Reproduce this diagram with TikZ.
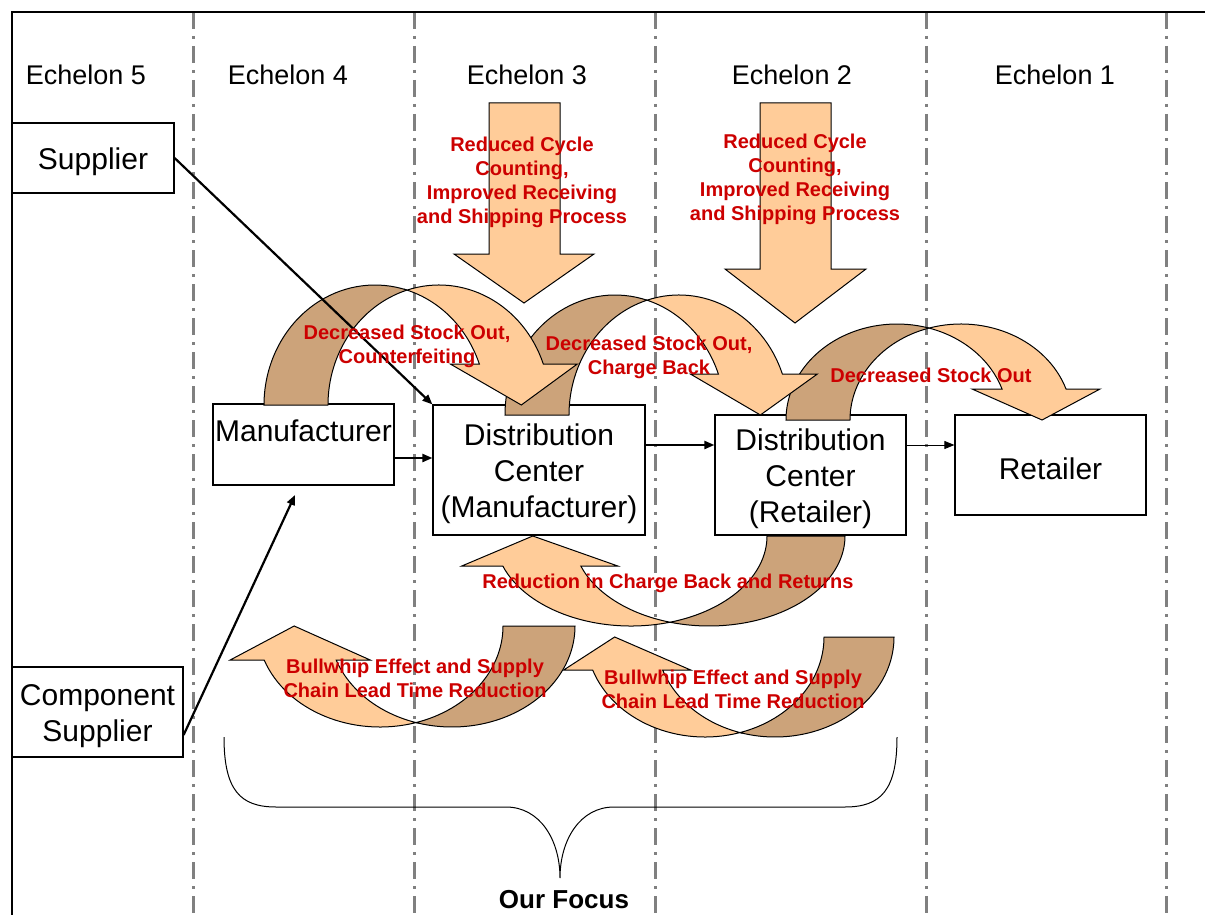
\documentclass[tikz,border=0pt]{standalone}
\usepackage{fontspec}
\setmainfont{Liberation Sans}
\usetikzlibrary{arrows.meta}

\definecolor{frontpeach}{RGB}{255,204,153}
\definecolor{backtan}{RGB}{204,163,122}
\definecolor{effectred}{RGB}{204,0,0}
\definecolor{dividergray}{RGB}{128,128,128}

\newcommand{\boxstrut}{\rule{0pt}{15pt}}

\tikzset{
  box/.style={draw, line width=0.6pt, fill=white, align=center, inner sep=1pt, font=\fontsize{15}{18}\selectfont},
  echelon/.style={font=\fontsize{13.5}{16}\selectfont},
  effect/.style={text=effectred, align=center, font=\fontsize{10}{12}\selectfont\bfseries},
  divider/.style={draw=dividergray, line width=1.5pt, dash pattern=on 8.5pt off 3.5pt on 1.5pt off 3.5pt},
  link/.style={-{Triangle[length=5pt,width=4pt]}, line width=1.1pt},
  frontfill/.style={fill=frontpeach, draw=black, line width=0.5pt},
  backfill/.style={fill=backtan, draw=black, line width=0.5pt},
}

% #1 placement, #2 x radius, #3 y radius, #4 band, #5 head height, #6/#7 wings, #8 tip offset
\newcommand{\flowarc}[8]{%
  \begin{scope}[#1]
    \pgfmathsetmacro{\ta}{acos(#4/(2*#2))}
    \pgfmathsetmacro{\tb}{180-\ta}
    \pgfmathsetmacro{\yi}{#3*sin(\ta)}
    \pgfmathsetmacro{\ph}{asin(#5/#3)}
    \pgfmathsetmacro{\hx}{#2*cos(\ph)}
    \path[backfill] (-#2,0) arc[start angle=180, end angle=\ta, x radius=#2, y radius=#3]
      arc[start angle=\tb, end angle=180, x radius=#2, y radius=#3] -- cycle;
    \path[frontfill] ({#4/2},\yi) arc[start angle=\tb, end angle=\ph, x radius=#2, y radius=#3]
      -- ++(#7,0) -- ({\hx+#4/2+#8},0) -- ({\hx-#6},#5) -- (\hx,#5)
      arc[start angle=\ph, end angle=\ta, x radius=#2, y radius=#3] -- cycle;
  \end{scope}}

\begin{document}
\begin{tikzpicture}[x=0.5pt, y=-0.5pt]
  \useasboundingbox (0,0) rectangle (1205,915);

  \foreach \x in {193,414,655,926,1166}
    \draw[divider] (\x,12) -- (\x,915);
  \draw[line width=1pt] (1205,12) -- (12,12) -- (12,915);

  \foreach \x/\n in {86/5,288/4,527/3,792/2,1055/1}
    \node[echelon] (ech\n) at (\x,75) {Echelon \n};

  \node[box, minimum width=81pt, minimum height=35pt] (supplier) at (93,158) {\boxstrut Supplier};
  \node[box, minimum width=85.5pt, minimum height=45pt] (cs) at (97.5,712) {\boxstrut Component\\Supplier};
  \node[box, minimum width=90.5pt, minimum height=40.5pt] (mfr) at (303.5,444.5) {\boxstrut Manufacturer\\~};
  \node[box, minimum width=106pt, minimum height=65pt] (dcm) at (539,470) {\boxstrut Distribution\\Center\\(Manufacturer)};
  \node[box, minimum width=95.5pt, minimum height=60pt] (dcr) at (810.5,475) {\boxstrut Distribution\\Center\\(Retailer)};
  \node[box, minimum width=95.5pt, minimum height=50pt] (retailer) at (1050.5,465) {\boxstrut Retailer};

  \flowarc{shift={(897,420)}, yscale=-1}{111}{96}{64}{31}{30}{34}{8}
  \flowarc{shift={(615,415)}, yscale=-1}{110}{120}{64}{41}{28}{35}{10}
  \flowarc{shift={(375,405)}, yscale=-1}{111}{120}{64}{41}{29}{34}{10}
  \flowarc{shift={(709,536)}, xscale=-1}{136}{90}{78}{30}{37}{41}{9}
  \flowarc{shift={(452,626)}, xscale=-1}{123}{101}{72}{34}{34}{34}{6}
  \flowarc{shift={(775,637)}, xscale=-1}{119}{100}{70}{33}{28}{29}{13}

  \path[frontfill] (489,103) -- (560,103) -- (560,254) -- (594,254) -- (524,303) -- (454,254) -- (489,254) -- cycle;
  \path[frontfill] (760,103) -- (831,103) -- (831,269) -- (866,269) -- (795,323) -- (725,269) -- (760,269) -- cycle;

  \coordinate (mfrlow) at (295,495);
  \draw[link] (supplier.east) -- (dcm.north west);
  \draw[link] ([yshift=-11.5pt]cs.east) -- (mfrlow);
  \draw[link] ([yshift=-6.75pt]mfr.east) -- ([yshift=6pt]dcm.west);
  \draw[link] ([yshift=12.5pt]dcm.east) -- ([yshift=15pt]dcr.west);
  \draw[-{Triangle[length=5pt,width=4pt]}, line width=0.5pt] ([yshift=15pt]dcr.east) -- ([yshift=10pt]retailer.west);

  \node[effect] (cycle3) at (522,182) {Reduced Cycle\\Counting,\\Improved Receiving\\and Shipping Process};
  \node[effect] (cycle2) at (795,179) {Reduced Cycle\\Counting,\\Improved Receiving\\and Shipping Process};
  \node[effect] (stock4) at (407,346) {Decreased Stock Out,\\Counterfeiting};
  \node[effect] (stock3) at (649,357) {Decreased Stock Out,\\Charge Back};
  \node[effect] (stock2) at (931,375) {Decreased Stock Out};
  \node[effect] (returns) at (668,583) {Reduction in Charge Back and Returns};
  \node[effect] (whip4) at (415,678) {Bullwhip Effect and Supply\\Chain Lead Time Reduction};
  \node[effect] (whip3) at (733,689) {Bullwhip Effect and Supply\\Chain Lead Time Reduction};

  \coordinate (focustip) at (560,878);
  \draw[line width=0.5pt] (224,737) .. controls (224,790) and (240,807) .. (276,807) -- (506,807)
    .. controls (540,807) and (560,840) .. (focustip)
    .. controls (560,840) and (580,807) .. (614,807) -- (845,807)
    .. controls (881,807) and (897,790) .. (897,737);
  \node[font=\fontsize{13}{15}\selectfont\bfseries] (focus) at (564,900) {Our Focus};
\end{tikzpicture}
\end{document}
